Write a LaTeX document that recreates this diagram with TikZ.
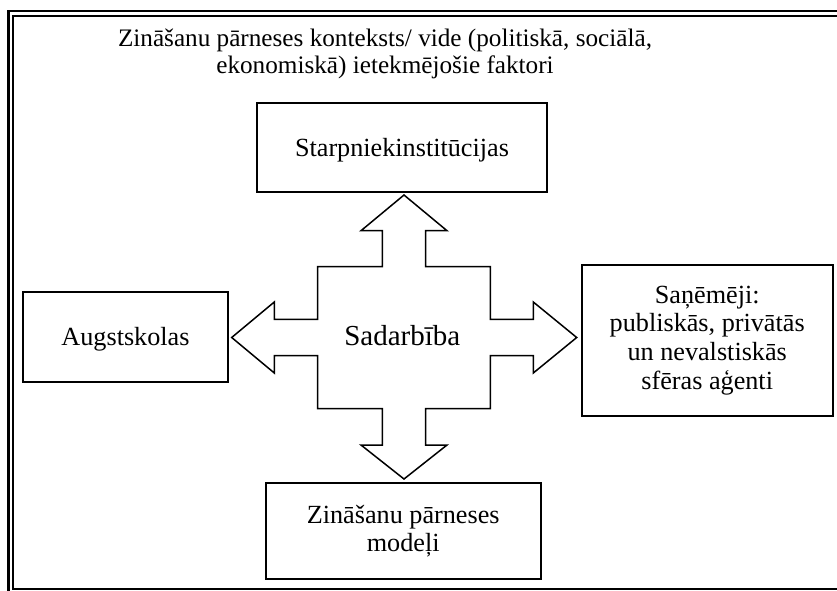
\documentclass[tikz,border=0pt]{standalone}
\usepackage{fontspec}
\setmainfont{Liberation Serif}
\tikzset{
  framerule/.style={line width=2.4pt},
  box/.style={draw, line width=1.9pt, inner sep=0pt, align=center,
    font=\fontsize{26.2}{28.6}\selectfont},
  quadarrow/.style={draw, line width=1.5pt, line join=miter, fill=white}
}
\begin{document}
\begin{tikzpicture}[x=1pt, y=-1pt]
  \useasboundingbox (0,0) rectangle (837,590);
  \fill[white] (0,0) rectangle (837,590);
  \begin{scope}
    \clip (0,0) rectangle (837,590);
    % double frame round the whole scheme
    \draw[framerule] (8.5,10.8) rectangle (900,650);
    \draw[line width=2.1pt] (13,15.6) rectangle (900,588.6);
  \end{scope}

  % surrounding context
  \node[align=center, font=\fontsize{25.2}{26.6}\selectfont] (context) at (385,54)
    {Zināšanu pārneses konteksts/ vide (politiskā, sociālā,\\
     ekonomiskā) ietekmējošie faktori};

  % participants
  \node[box, text depth=0pt, minimum width=290.6pt, minimum height=89.3pt] (inst)
    at (402,147.3) {Starpniekinstitūcijas};
  \node[box, text depth=0pt, minimum width=204.4pt, minimum height=90pt] (univ)
    at (125.5,336.7) {Augstskolas};
  \node[box, minimum width=251pt, minimum height=150.7pt] (recv) at (707.2,340.3)
    {Saņēmēji:\\ publiskās, privātās\\ un nevalstiskās\\ sfēras aģenti};
  \node[box, minimum width=275pt, minimum height=96.6pt] (models) at (403.2,531)
    {Zināšanu pārneses\\ modeļi};

  % four-way cooperation arrow
  \draw[quadarrow]
    (404,195) -- (447,230.7) -- (425.7,230.7) -- (425.7,266.7)
    -- (490.3,266.7) -- (490.3,319.3) -- (533.3,319.3) -- (533.3,302)
    -- (576.7,337.5) -- (533.3,373) -- (533.3,355.5) -- (490.3,355.5)
    -- (490.3,408.7) -- (425.7,408.7) -- (425.7,445) -- (447,445)
    -- (404,479) -- (361,445) -- (382.3,445) -- (382.3,408.7)
    -- (317.7,408.7) -- (317.7,355.5) -- (274.3,355.5) -- (274.3,373)
    -- (231.7,337.5) -- (274.3,302) -- (274.3,319.3) -- (317.7,319.3)
    -- (317.7,266.7) -- (382.3,266.7) -- (382.3,230.7) -- (361,230.7)
    -- cycle;
  \node[anchor=base, font=\fontsize{29}{31}\selectfont, inner sep=0pt] (coop)
    at (402.3,345) {Sadarbība};
\end{tikzpicture}
\end{document}
